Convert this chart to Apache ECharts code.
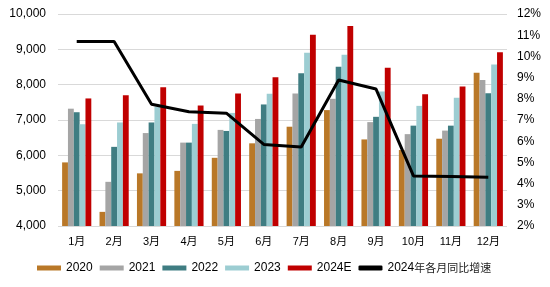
<!DOCTYPE html>
<html><head><meta charset="utf-8">
<script src="https://cdn.jsdelivr.net/npm/echarts@6/dist/echarts.min.js"></script>
<style>html,body{margin:0;padding:0;background:#fff}#c{width:550px;height:287px}</style>
</head><body><div id="c"></div>
<script>
const categories = ['1月','2月','3月','4月','5月','6月','7月','8月','9月','10月','11月','12月'];
const s2020 = [5800,4400,5490,5560,5930,6340,6810,7280,6450,6150,6470,8340];
const s2021 = [7320,5250,6630,6360,6720,7030,7750,7600,6940,6600,6700,8130];
const s2022 = [7220,6240,6930,6360,6690,7440,8320,8510,7090,6840,6840,7760];
const s2023 = [6880,6930,7380,6890,7200,7740,8900,8850,7810,7400,7630,8570];
const s2024E = [7610,7700,7930,7410,7750,8210,9410,9660,8480,7730,7950,8920];
const growth2024 = [10.7,10.7,7.74,7.39,7.32,5.85,5.73,8.89,8.46,4.36,4.33,4.30];
const leftTicks = {min:4000, max:10000, interval:1000};
const rightTicks = {min:2, max:12, interval:1};

const font = 'Arial, "Liberation Sans", "Noto Sans CJK SC", sans-serif';
const colors = ['#B97828','#A5A5A5','#3F7D82','#9CCDD2','#C00000','#000000'];
const lineName = '2024年各月同比增速';
const chart = echarts.init(document.getElementById('c'), null, {renderer:'canvas'});
const barSeries = (name, data, i) => ({
  name, type:'bar', data, yAxisIndex:0,
  barGap:'0%', barCategoryGap:'22%',
  itemStyle:{color:colors[i]}
});
chart.setOption({
  animation:false,
  textStyle:{fontFamily:font},
  grid:{left:58, right:43, top:14, bottom:61},
  legend:{
    left:37, top:262, padding:0, itemWidth:24, itemHeight:5, itemGap:7,
    textStyle:{fontSize:12, color:'#000', fontFamily:font,
      rich:{
        d:{fontSize:12, fontFamily:'Arial, "Liberation Sans"', color:'#000'},
        c:{fontSize:11, fontFamily:'"Noto Sans CJK SC"', color:'#222'}
      }},
    formatter:function(n){
      if(n===lineName){ return '{d|2024}{c|年各月同比增速}'; }
      return n;
    },
    data:[
      {name:'2020', icon:'rect'},{name:'2021', icon:'rect'},{name:'2022', icon:'rect'},
      {name:'2023', icon:'rect'},{name:'2024E', icon:'rect'},{name:lineName, icon:'roundRect'}
    ]
  },
  xAxis:{
    type:'category', data:categories,
    axisLine:{show:false}, axisTick:{show:false},
    axisLabel:{fontSize:11, color:'#000', margin:10}
  },
  yAxis:[
    {type:'value', min:leftTicks.min, max:leftTicks.max, interval:leftTicks.interval,
     axisLine:{show:false}, axisTick:{show:false},
     axisLabel:{fontSize:12, color:'#000', margin:12, formatter:v=>v.toLocaleString('en-US')},
     splitLine:{lineStyle:{color:'#D9D9D9', width:1}}},
    {type:'value', min:rightTicks.min, max:rightTicks.max, interval:rightTicks.interval,
     axisLine:{show:false}, axisTick:{show:false},
     axisLabel:{fontSize:12, color:'#000', margin:10, formatter:v=>v+'%'},
     splitLine:{show:false}}
  ],
  series:[
    barSeries('2020', s2020, 0),
    barSeries('2021', s2021, 1),
    barSeries('2022', s2022, 2),
    barSeries('2023', s2023, 3),
    barSeries('2024E', s2024E, 4),
    {name:lineName, type:'line', yAxisIndex:1, data:growth2024,
     symbol:'none', lineStyle:{color:'#000', width:3}, itemStyle:{color:'#000'}, z:5}
  ]
});
</script></body></html>
